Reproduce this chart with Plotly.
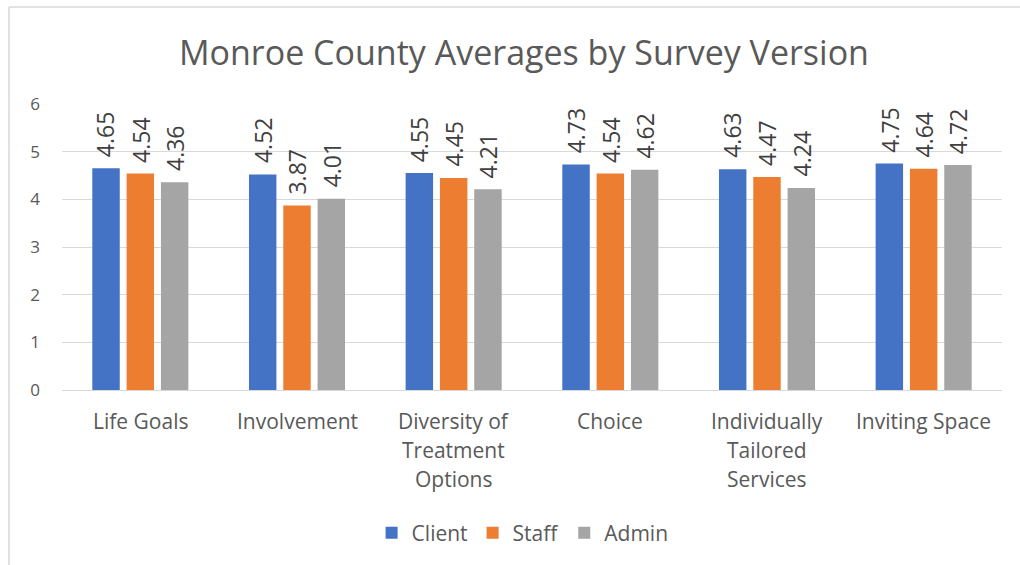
import plotly.graph_objects as go

# Survey domains and their wrapped axis labels
categories = ["Life Goals", "Involvement", "Diversity of Treatment Options",
              "Choice", "Individually Tailored Services", "Inviting Space"]
category_lines = [["Life Goals"], ["Involvement"], ["Diversity of", "Treatment", "Options"],
                  ["Choice"], ["Individually", "Tailored", "Services"], ["Inviting Space"]]

# Average scores per survey version
client = [4.65, 4.52, 4.55, 4.73, 4.63, 4.75]
staff = [4.54, 3.87, 4.45, 4.54, 4.47, 4.64]
admin = [4.36, 4.01, 4.21, 4.62, 4.24, 4.72]

series = [("Client", client, "#4472C4"),
          ("Staff", staff, "#ED7D31"),
          ("Admin", admin, "#A5A5A5")]

FONT = "Open Sans"
TEXT_GRAY = "#595959"
LABEL_GRAY = "#404040"
GRID = "#D9D9D9"

fig = go.Figure()
for name, vals, color in series:
    fig.add_trace(go.Bar(name=name, x=categories, y=vals, marker_color=color,
                         marker_line_width=0))

annotations = []
# Value labels above each bar, rotated
slot_px = 34.5
for si, (name, vals, color) in enumerate(series):
    for cat, v in zip(categories, vals):
        annotations.append(dict(
            x=cat, y=v, xref="x", yref="y", text=f"{v:.2f}", textangle=-90,
            showarrow=False, xanchor="center", yanchor="bottom",
            xshift=(si - 1) * slot_px, yshift=9,
            font=dict(family=FONT, size=23, color=LABEL_GRAY)))

# Category labels under the axis, one annotation per wrapped line
for cat, lines in zip(categories, category_lines):
    for li, line in enumerate(lines):
        annotations.append(dict(
            x=cat, y=0, xref="x", yref="paper", text=line, showarrow=False,
            xanchor="center", yanchor="middle", yshift=-31 - 29 * li,
            font=dict(family=FONT, size=21, color=TEXT_GRAY)))

# Chart frame (top and left edges)
shapes = [
    dict(type="line", xref="paper", yref="paper", x0=-0.0564, x1=1.03, y0=1.3392, y1=1.3392,
         line=dict(color=GRID, width=1.5)),
    dict(type="line", xref="paper", yref="paper", x0=-0.0564, x1=-0.0564, y0=1.3392, y1=-0.65,
         line=dict(color=GRID, width=1.5)),
]

fig.update_layout(
    width=1020, height=565,
    margin=dict(l=62, r=18, t=104, b=175),
    paper_bgcolor="white", plot_bgcolor="white",
    barmode="group", bargap=0.343, bargroupgap=0.2,
    title=dict(text="Monroe County Averages by Survey Version", x=0.5137, xanchor="center",
               y=0.906, yanchor="middle",
               font=dict(family=FONT, size=34, color=TEXT_GRAY)),
    legend=dict(orientation="h", x=0.49, xanchor="center", y=-0.5, yanchor="middle",
                font=dict(family=FONT, size=21, color=TEXT_GRAY)),
    annotations=annotations,
    shapes=shapes,
    showlegend=True,
)
fig.update_xaxes(showticklabels=False, showgrid=False, showline=False, ticks="")
fig.update_yaxes(range=[0, 6], dtick=1, showgrid=True, gridcolor=GRID, gridwidth=1,
                 zeroline=True, zerolinecolor=GRID, zerolinewidth=1, showline=False,
                 ticks="", ticklabelstandoff=21,
                 tickfont=dict(family=FONT, size=17, color=TEXT_GRAY))

fig.write_html("out.html")
